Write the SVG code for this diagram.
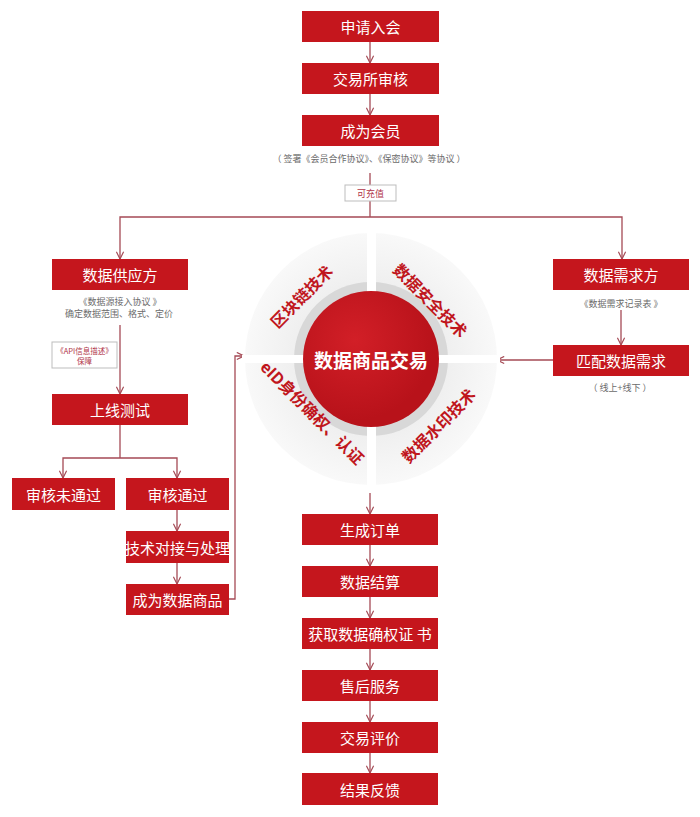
<svg xmlns="http://www.w3.org/2000/svg" width="700" height="817" viewBox="0 0 700 817">
<defs>
<style>
.box{fill:#c5161d}
.bt{fill:#ffffff;font-family:"Noto Sans CJK SC","Noto Sans",sans-serif;font-size:15px;text-anchor:middle;dominant-baseline:central}
.note{fill:#6b6b6b;font-family:"Noto Sans CJK SC","Noto Sans",sans-serif;font-size:9px;text-anchor:middle;dominant-baseline:central}
.tag{fill:#b03447;font-family:"Noto Sans CJK SC","Noto Sans",sans-serif;text-anchor:middle;dominant-baseline:central}
.tagbox{fill:#ffffff;stroke:#bdbdbd;stroke-width:1}
.ln{fill:none;stroke:#a54a55;stroke-width:1.3}
.arr{marker-end:url(#ah)}
.qt{fill:#c0161d;font-family:"Noto Sans CJK SC","Noto Sans",sans-serif;font-size:16px;font-weight:bold;text-anchor:middle;dominant-baseline:central}
.ct{fill:#ffffff;font-family:"Noto Sans CJK SC","Noto Sans",sans-serif;font-size:19px;font-weight:bold;text-anchor:middle;dominant-baseline:central}
</style>
<marker id="ah" viewBox="0 0 10 10" refX="9" refY="5" markerWidth="9" markerHeight="9" orient="auto" markerUnits="userSpaceOnUse">
<path d="M1,1 L9,5 L1,9" fill="none" stroke="#a54a55" stroke-width="1.3"/>
</marker>
<radialGradient id="qg" cx="371" cy="359" r="127" gradientUnits="userSpaceOnUse">
<stop offset="0.55" stop-color="#eeeeee"/>
<stop offset="1" stop-color="#f9f9f9"/>
</radialGradient>
<radialGradient id="rg" cx="355" cy="340" r="80" gradientUnits="userSpaceOnUse">
<stop offset="0" stop-color="#d21f27"/>
<stop offset="1" stop-color="#b8121a"/>
</radialGradient>
</defs>
<rect width="700" height="817" fill="#ffffff"/>

<g id="connectors">
<path class="ln arr" d="M370,42 V63"/>
<path class="ln arr" d="M370,94 V115"/>
<path class="ln" d="M370,173 V217"/>
<path class="ln arr" d="M370,217 H120 V259"/>
<path class="ln arr" d="M370,217 H622 V259"/>
<path class="ln arr" d="M120,325 V394"/>
<path class="ln" d="M120,425 V458"/>
<path class="ln arr" d="M120,458 H63 V478"/>
<path class="ln arr" d="M120,458 H177 V478"/>
<path class="ln arr" d="M177,510 V531"/>
<path class="ln arr" d="M177,563 V584"/>
<path class="ln arr" d="M229,599 H235 V356 H244"/>
<path class="ln arr" d="M621,310 V345"/>
<path class="ln arr" d="M553,360 H497"/>
<path class="ln arr" d="M370,493 V514"/>
<path class="ln arr" d="M370,545 V566"/>
<path class="ln arr" d="M370,597 V618"/>
<path class="ln arr" d="M370,649 V670"/>
<path class="ln arr" d="M370,701 V722"/>
<path class="ln arr" d="M370,753 V773"/>
</g>

<g id="hub">
<circle cx="371" cy="359" r="126" fill="url(#qg)"/>
<circle cx="371" cy="359" r="77" fill="#d8d8d8"/>
<rect x="367" y="230" width="9" height="258" fill="#ffffff"/>
<rect x="242" y="355" width="258" height="8" fill="#ffffff"/>
<circle cx="371" cy="359" r="68" fill="url(#rg)"/>
<text class="ct" x="371" y="359">数据商品交易</text>
<text class="qt" transform="translate(301,296) rotate(-45)">区块链技术</text>
<text class="qt" transform="translate(431,300) rotate(45)">数据安全技术</text>
<text class="qt" transform="translate(313,412) rotate(45)">eID身份确权、认证</text>
<text class="qt" transform="translate(438,425) rotate(-45)">数据水印技术</text>
</g>

<g id="n-apply"><rect class="box" x="302" y="11" width="137" height="31"/><text class="bt" x="370.5" y="26.5">申请入会</text></g>
<g id="n-review"><rect class="box" x="302" y="63" width="137" height="31"/><text class="bt" x="370.5" y="78.5">交易所审核</text></g>
<g id="n-member"><rect class="box" x="302" y="115" width="137" height="31"/><text class="bt" x="370.5" y="130.5">成为会员</text></g>
<g id="t-member"><text class="note" x="369" y="158">（ 签署《会员合作协议》、《保密协议》等协议 ）</text></g>
<g id="t-recharge"><rect class="tagbox" x="345" y="185" width="51" height="16"/><text class="tag" x="370.5" y="193" font-size="9">可充值</text></g>

<g id="n-supplier"><rect class="box" x="52" y="259" width="136" height="31"/><text class="bt" x="120" y="274.5">数据供应方</text></g>
<g id="t-supplier"><text class="note" x="120" y="301" font-size="8.5">《数据源接入协议 》</text><text class="note" x="119" y="313" font-size="8.5">确定数据范围、格式、定价</text></g>
<g id="t-api"><rect class="tagbox" x="52" y="342" width="65" height="26"/><text class="tag" x="84.5" y="350.5" font-size="7.5">《API信息描述》</text><text class="tag" x="84.5" y="360.5" font-size="7.5">保障</text></g>
<g id="n-test"><rect class="box" x="52" y="394" width="136" height="31"/><text class="bt" x="120" y="409.5">上线测试</text></g>
<g id="n-fail"><rect class="box" x="12" y="478" width="103" height="32"/><text class="bt" x="63.5" y="494">审核未通过</text></g>
<g id="n-pass"><rect class="box" x="126" y="478" width="103" height="32"/><text class="bt" x="177.5" y="494">审核通过</text></g>
<g id="n-tech"><rect class="box" x="126" y="531" width="103" height="32"/><text class="bt" x="177.5" y="547" font-size="14">技术对接与处理</text></g>
<g id="n-product"><rect class="box" x="126" y="584" width="103" height="31"/><text class="bt" x="177.5" y="599.5" font-size="14.5">成为数据商品</text></g>

<g id="n-demand"><rect class="box" x="553" y="259" width="136" height="31"/><text class="bt" x="621" y="274.5">数据需求方</text></g>
<g id="t-demand"><text class="note" x="621" y="303">《数据需求记录表 》</text></g>
<g id="n-match"><rect class="box" x="553" y="345" width="136" height="31"/><text class="bt" x="621" y="360.5">匹配数据需求</text></g>
<g id="t-match"><text class="note" x="620" y="387">（ 线上+线下 ）</text></g>

<g id="n-order"><rect class="box" x="302" y="514" width="136" height="31"/><text class="bt" x="370" y="529.5">生成订单</text></g>
<g id="n-settle"><rect class="box" x="302" y="566" width="136" height="31"/><text class="bt" x="370" y="581.5">数据结算</text></g>
<g id="n-cert"><rect class="box" x="302" y="618" width="136" height="31"/><text class="bt" x="370" y="633.5">获取数据确权证 书</text></g>
<g id="n-aftersale"><rect class="box" x="302" y="670" width="136" height="31"/><text class="bt" x="370" y="685.5">售后服务</text></g>
<g id="n-rating"><rect class="box" x="302" y="722" width="136" height="31"/><text class="bt" x="370" y="737.5">交易评价</text></g>
<g id="n-feedback"><rect class="box" x="302" y="773" width="136" height="32"/><text class="bt" x="370" y="789">结果反馈</text></g>
</svg>
